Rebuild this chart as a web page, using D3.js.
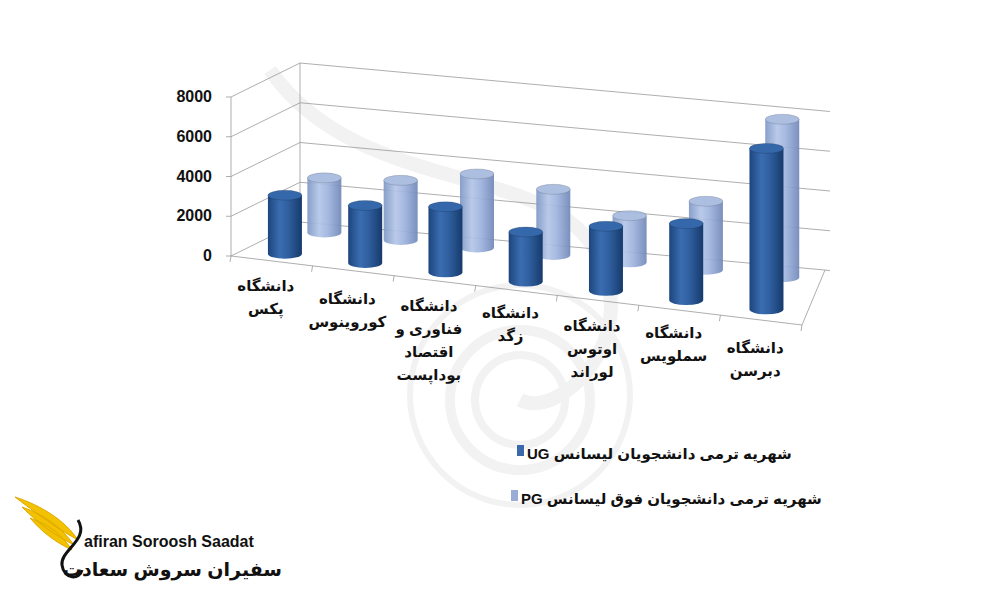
<!DOCTYPE html>
<html><head><meta charset="utf-8">
<script src="https://cdn.jsdelivr.net/npm/d3@7/dist/d3.min.js"></script>
<style>body{margin:0;background:#fff}text{font-family:Arial,"Liberation Sans","DejaVu Sans",sans-serif;font-weight:bold}</style>
</head><body><svg id="c" width="1000" height="600"></svg>
<script>
const categories = [["دانشگاه","پکس"],["دانشگاه","کوروینوس"],["دانشگاه","فناوری و","اقتصاد","بوداپست"],["دانشگاه","زگد"],["دانشگاه","اوتوس","لوراند"],["دانشگاه","سملویس"],["دانشگاه","دبرسن"]];
const seriesNames = ["UG","PG"];
const ugValues = [2950, 2900, 3300, 2500, 3250, 3850, 8100];
const pgValues = [2750, 3000, 3700, 3300, 2350, 3450, 7950];
const yTicks = [0, 2000, 4000, 6000, 8000];
const legendLabels = ["UG شهریه ترمی دانشجویان لیسانس", "PG شهریه ترمی دانشجویان فوق لیسانس"];

const svg = d3.select("#c");
const F0=[231,256],F1=[802,325],B0=[300,222],B1=[825,270];
function floor(u,v){const fx=F0[0]+(F1[0]-F0[0])*u, fy=F0[1]+(F1[1]-F0[1])*u;
  const bx=B0[0]+(B1[0]-B0[0])*u, by=B0[1]+(B1[1]-B0[1])*u;
  return [fx+(bx-fx)*v, fy+(by-fy)*v];}
const h = d3.scaleLinear().domain([0,8000]).range([0,159]);
const xb = d3.scaleBand().domain(d3.range(categories.length)).range([0,1]);
const row = d3.scalePoint().domain(seriesNames).range([0.2,0.8]);

// watermark
const wm = svg.append("g").attr("fill","none").attr("stroke","#f2f2f2");
[[520,400,70,10],[520,400,45,8],[520,395,110,6]].forEach(([cx,cy,r,w])=>wm.append("circle").attr("cx",cx).attr("cy",cy).attr("r",r).attr("stroke-width",w));
wm.append("path").attr("d","M270,70 C360,200 560,160 600,260 C640,340 560,420 520,400").attr("stroke-width",14);

const g = svg.append("g").attr("stroke","#999").attr("stroke-width",0.8).attr("fill","none");
g.append("line").attr("x1",F0[0]).attr("y1",F0[1]).attr("x2",F0[0]).attr("y2",F0[1]-h(8000));
g.append("line").attr("x1",B0[0]).attr("y1",B0[1]).attr("x2",B0[0]).attr("y2",B0[1]-h(8000));
yTicks.forEach(t=>{
  g.append("polyline").attr("points",[[F0[0]-5,F0[1]-h(t)],[F0[0],F0[1]-h(t)],[B0[0],B0[1]-h(t)],[B1[0]+5,B1[1]-h(t)+0.5]].map(p=>p.join(",")).join(" "));
});
g.append("polyline").attr("points",[F0,F1,B1].map(p=>p.join(",")).join(" "));
d3.range(categories.length+1).forEach(i=>{const p=floor(xb.step()*i,0);
  g.append("line").attr("x1",p[0]).attr("y1",p[1]).attr("x2",p[0]-1).attr("y2",p[1]+6);});
svg.selectAll(".yt").data(yTicks).join("text").attr("x",212).attr("y",t=>F0[1]-h(t)+5)
  .attr("text-anchor","end").attr("font-size",16).attr("fill","#111").text(d=>d);

const defs = svg.append("defs");
function grad(id,stops){const lg=defs.append("linearGradient").attr("id",id);
  stops.forEach(([o,c])=>lg.append("stop").attr("offset",o).attr("stop-color",c));}
grad("ug",[[0,"#1d457e"],[0.35,"#3a6db0"],[0.6,"#2f5f9f"],[1,"#173a6c"]]);
grad("pg",[[0,"#7f98c7"],[0.35,"#b4c6e8"],[0.6,"#9fb4de"],[1,"#7087b8"]]);
const topC = {UG:"#3568aa",PG:"#a6badf"};
function cyl(i,s,val){
  const [cx,cy]=floor(xb(i)+xb.bandwidth()/2,row(s)); const r=17, ry=5, H=h(val);
  const cg=svg.append("g");
  cg.append("path").attr("d",`M${cx-r},${cy-H} L${cx-r},${cy} A${r},${ry} 0 0 0 ${cx+r},${cy} L${cx+r},${cy-H} Z`).attr("fill",`url(#${s.toLowerCase()})`);
  cg.append("ellipse").attr("cx",cx).attr("cy",cy-H).attr("rx",r).attr("ry",ry).attr("fill",topC[s]).attr("stroke","rgba(0,0,0,0.15)");
  cg.attr("opacity",s==="PG"?0.92:1);
}
pgValues.forEach((v,i)=>cyl(i,"PG",v));
ugValues.forEach((v,i)=>cyl(i,"UG",v));

const labY=[283,296,303,310,323,330,345];
categories.forEach((lines,i)=>{const p=floor(xb(i)+xb.bandwidth()/2,0);
  const t=svg.append("text").attr("text-anchor","middle").attr("font-size",15).attr("fill","#111");
  lines.forEach((l,k)=>t.append("tspan").attr("x",p[0]-6).attr("y",labY[i]+8+k*23).text(l));});

const legCol={UG:"#3a6aab",PG:"#98acd6"};
const legPos=[[517,445,527,459],[511,490,521,504]];
seriesNames.forEach((s,k)=>{const [sx,sy,tx,ty]=legPos[k];
  svg.append("rect").attr("x",sx).attr("y",sy).attr("width",7).attr("height",11).attr("fill",legCol[s]);
  svg.append("text").attr("x",tx).attr("y",ty).attr("font-size",15).attr("fill","#111").text(legendLabels[k]);});

const lg2=svg.append("g");
lg2.append("path").attr("d","M15,497 C40,505 65,520 78,540 C60,530 45,520 15,497 Z M22,507 C45,515 62,528 74,545 C55,535 40,525 22,507 Z M30,518 C50,525 62,535 72,550 C55,542 42,532 30,518 Z").attr("fill","#f2c200").attr("stroke","#e0a800");
lg2.append("path").attr("d","M78,520 C90,540 60,550 62,565 C64,580 80,580 82,570").attr("fill","none").attr("stroke","#111").attr("stroke-width",3);
lg2.append("text").attr("x",84).attr("y",547).attr("font-size",16).attr("fill","#111").text("afiran Soroosh Saadat");
lg2.append("text").attr("x",282).attr("y",576).attr("text-anchor","end").attr("font-size",19).attr("fill","#111").text("سفیران سروش سعادت");
</script></body></html>
